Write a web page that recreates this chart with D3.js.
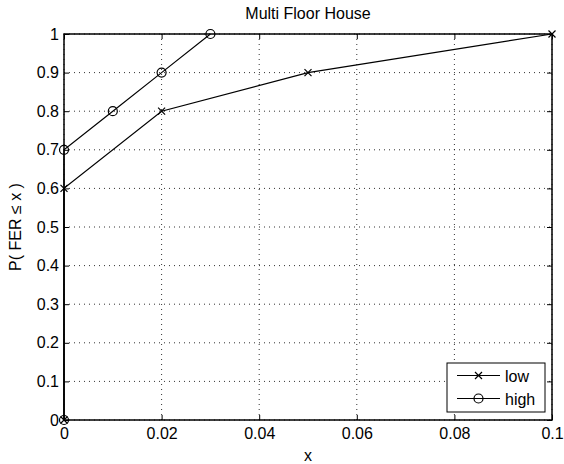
<!DOCTYPE html>
<html>
<head>
<meta charset="utf-8">
<script src="https://cdn.jsdelivr.net/npm/d3@7"></script>
<style>
  body { margin: 0; background: #fff; }
  svg text { font-family: "Liberation Sans", Arial, sans-serif; fill: #000; }
  .grid line { stroke: #000; stroke-width: 1; stroke-dasharray: 1, 4; opacity: 0.8; }
  .line { fill: none; stroke: #000; stroke-width: 1.2; }
</style>
</head>
<body>
<div id="chart"></div>
<script>
var fullWidth = 564;
var fullHeight = 464;
var margin = { top: 34, bottom: 44, left: 64, right: 12 }
var width = fullWidth - margin.left - margin.right
var height = fullHeight - margin.top - margin.bottom
var fontSize = "16px"

// data
var lowX = [0, 0, 0.02, 0.05, 0.1]
var lowY = [0, 0.6, 0.8, 0.9, 1]
var highX = [0, 0, 0.01, 0.02, 0.03]
var highY = [0, 0.7, 0.8, 0.9, 1]
var xTicks = [0, 0.02, 0.04, 0.06, 0.08, 0.1]
var yTicks = [0, 0.1, 0.2, 0.3, 0.4, 0.5, 0.6, 0.7, 0.8, 0.9, 1]
var seriesNames = ["low", "high"]

var low = lowX.map(function (x, i) { return { x: x, y: lowY[i] } })
var high = highX.map(function (x, i) { return { x: x, y: highY[i] } })

var xScale = d3.scaleLinear().domain([0, 0.1]).range([0, width])
var yScale = d3.scaleLinear().domain([0, 1]).range([height, 0])

var svg = d3.select("#chart").append("svg")
    .attr("width", fullWidth)
    .attr("height", fullHeight)
    .append("g")
    .attr("transform", "translate(" + margin.left + "," + margin.top + ")")

// grid
var grid = svg.append("g").attr("class", "grid")
grid.selectAll("line.v")
    .data(xTicks)
    .enter().append("line")
    .attr("class", "v")
    .attr("x1", function (d) { return xScale(d) })
    .attr("x2", function (d) { return xScale(d) })
    .attr("y1", 0)
    .attr("y2", height)
grid.selectAll("line.h")
    .data(yTicks)
    .enter().append("line")
    .attr("class", "h")
    .attr("x1", 0)
    .attr("x2", width)
    .attr("y1", function (d) { return yScale(d) })
    .attr("y2", function (d) { return yScale(d) })

var fmt = function (d) { return d3.format("~g")(d) }

// axes with inner ticks on all four sides
function styleAxis(g) {
    g.select(".domain").remove()
    g.selectAll(".tick line").attr("stroke", "#000")
    g.selectAll(".tick text").style("font-size", fontSize)
}

svg.append("g")
    .attr("transform", "translate(0," + height + ")")
    .call(d3.axisBottom(xScale).tickValues(xTicks).tickFormat(fmt).tickSizeInner(-5).tickPadding(8))
    .call(styleAxis)
svg.append("g")
    .call(d3.axisTop(xScale).tickValues(xTicks).tickFormat("").tickSizeInner(-5))
    .call(styleAxis)
svg.append("g")
    .call(d3.axisLeft(yScale).tickValues(yTicks).tickFormat(fmt).tickSizeInner(-5).tickPadding(5))
    .call(styleAxis)
svg.append("g")
    .attr("transform", "translate(" + width + ",0)")
    .call(d3.axisRight(yScale).tickValues(yTicks).tickFormat("").tickSizeInner(-5))
    .call(styleAxis)

svg.append("rect")
    .attr("width", width)
    .attr("height", height)
    .attr("fill", "none")
    .attr("stroke", "#000")
    .attr("stroke-width", 1.5)

var line = d3.line()
    .x(function (d) { return xScale(d.x) })
    .y(function (d) { return yScale(d.y) })

function drawCross(g, cx, cy) {
    var s = 3.5
    g.append("path")
        .attr("d", "M" + (cx - s) + "," + (cy - s) + "L" + (cx + s) + "," + (cy + s) +
            "M" + (cx - s) + "," + (cy + s) + "L" + (cx + s) + "," + (cy - s))
        .attr("stroke", "#000")
        .attr("stroke-width", 1.2)
}
function drawCircle(g, cx, cy) {
    g.append("circle")
        .attr("cx", cx)
        .attr("cy", cy)
        .attr("r", 4.5)
        .attr("fill", "none")
        .attr("stroke", "#000")
        .attr("stroke-width", 1.2)
}

svg.append("path").datum(low).attr("class", "line").attr("d", line)
svg.append("path").datum(high).attr("class", "line").attr("d", line)

var marks = svg.append("g")
low.forEach(function (d) { drawCross(marks, xScale(d.x), yScale(d.y)) })
high.forEach(function (d) { drawCircle(marks, xScale(d.x), yScale(d.y)) })

// title and labels
svg.append("text")
    .attr("x", width / 2)
    .attr("y", -15)
    .style("text-anchor", "middle")
    .style("font-size", fontSize)
    .text("Multi Floor House")

svg.append("text")
    .attr("x", width / 2)
    .attr("y", height + 41)
    .style("text-anchor", "middle")
    .style("font-size", fontSize)
    .text("x")

svg.append("text")
    .attr("transform", "translate(" + (-43) + "," + (height / 2) + ") rotate(-90)")
    .style("text-anchor", "middle")
    .style("font-size", fontSize)
    .text("P( FER \u2264 x )")

// legend
var legW = 98, legH = 49
var leg = svg.append("g")
    .attr("transform", "translate(" + (width - 7 - legW) + "," + (height - 8 - legH) + ")")
leg.append("rect")
    .attr("width", legW)
    .attr("height", legH)
    .attr("fill", "#fff")
    .attr("stroke", "#000")
    .attr("stroke-width", 1)
seriesNames.forEach(function (name, i) {
    var yy = 12.5 + i * 23
    leg.append("line")
        .attr("x1", 10).attr("x2", 53)
        .attr("y1", yy).attr("y2", yy)
        .attr("stroke", "#000").attr("stroke-width", 1.2)
    if (i == 0) drawCross(leg, 31.5, yy)
    else drawCircle(leg, 31.5, yy)
    leg.append("text")
        .attr("x", 58)
        .attr("y", yy + 6)
        .style("font-size", fontSize)
        .text(name)
})
</script>
</body>
</html>
